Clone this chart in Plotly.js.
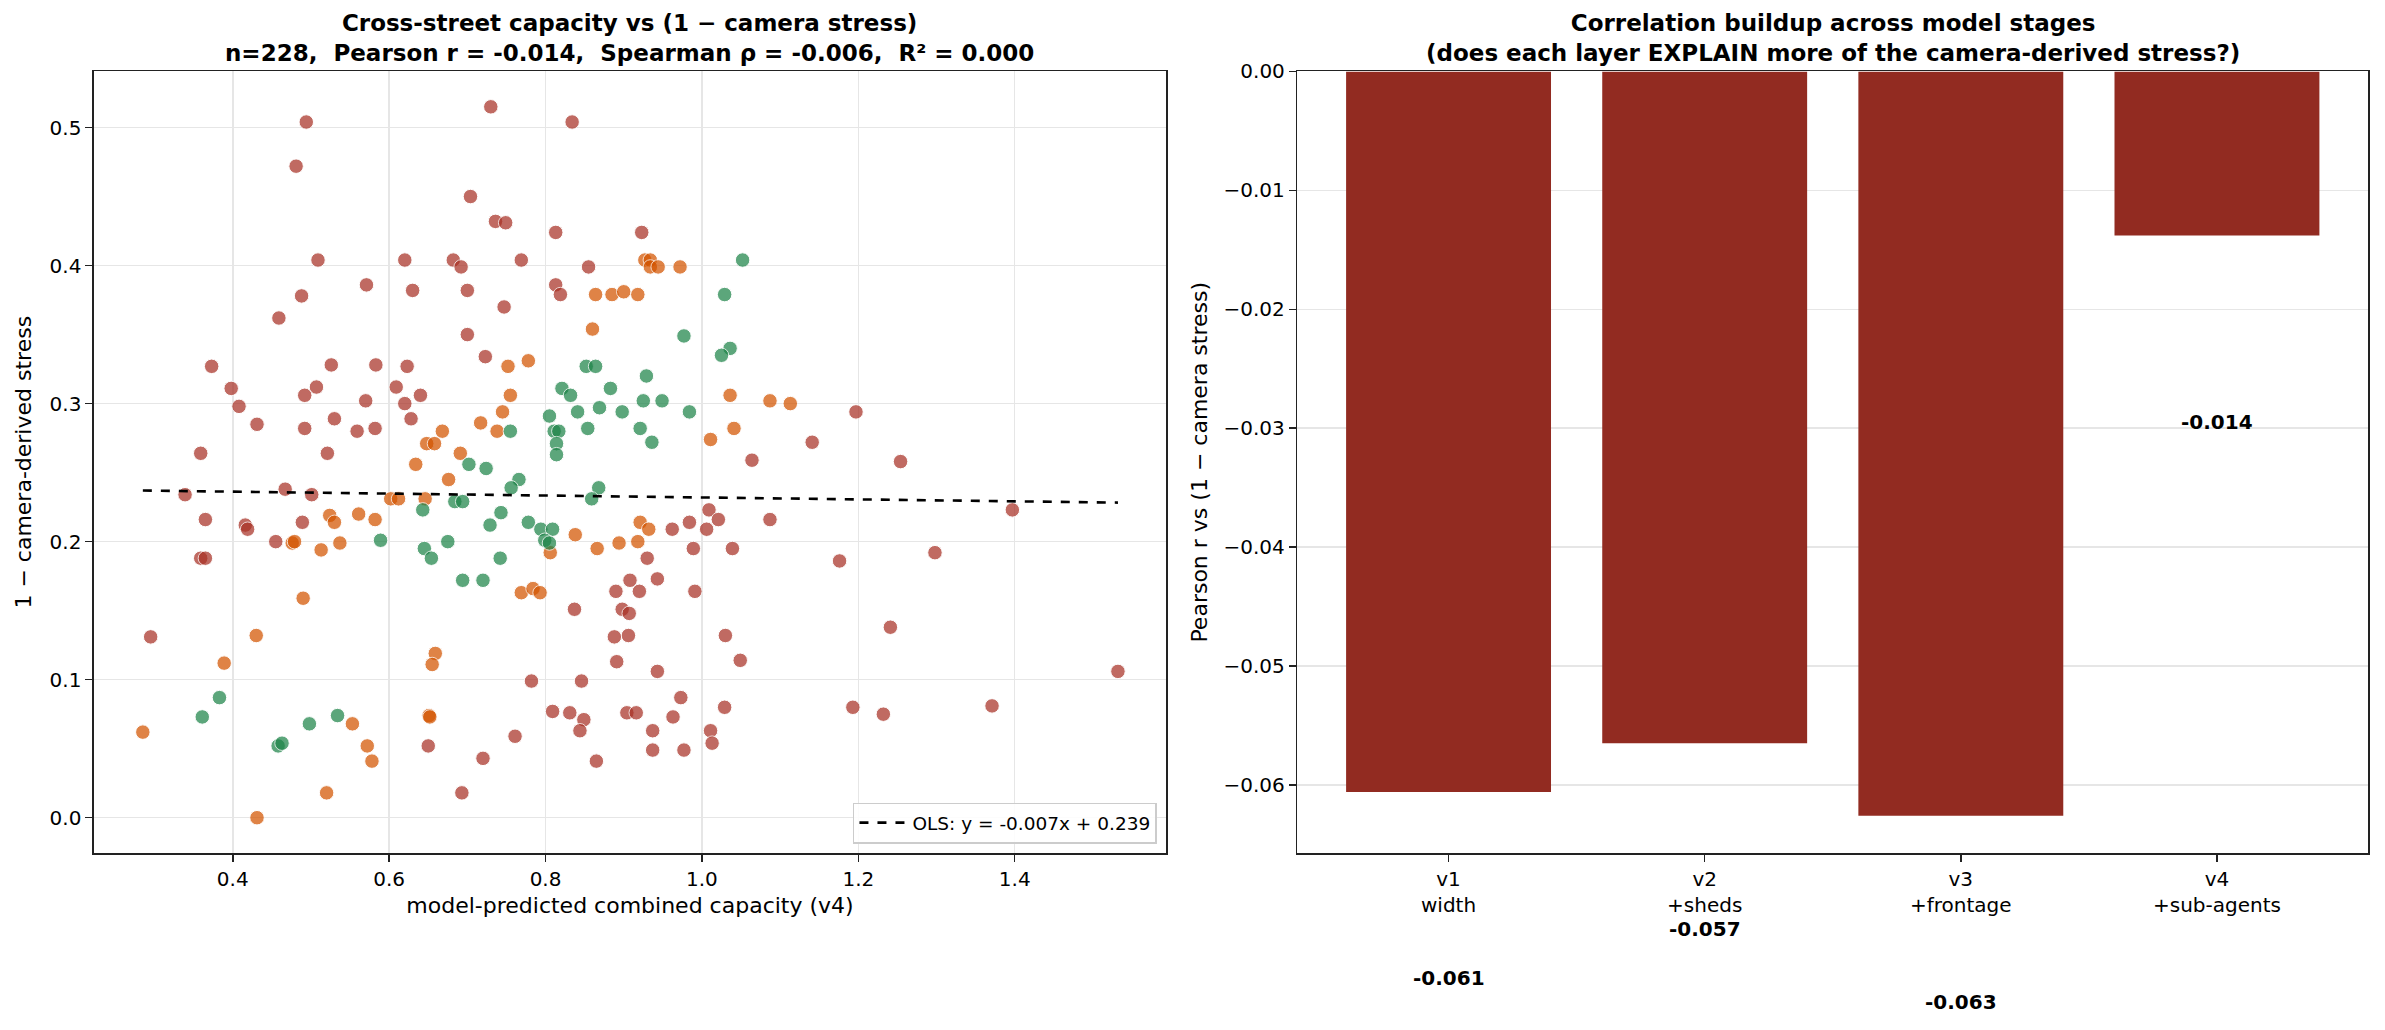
<!DOCTYPE html>
<html><head><meta charset="utf-8">
<script src="https://cdn.plot.ly/plotly-3.0.1.min.js"></script>
<style>html,body{margin:0;padding:0;background:#fff}#chart{width:2385px;height:1030px}</style>
</head><body><div id="chart"></div>
<script>
// ---------- scatter data (model-predicted capacity v4, 1 - camera-derived stress) ----------
const redX = [0.494,0.481,0.509,0.620,0.571,0.630,0.488,0.459,0.373,0.526,0.583,0.623,0.398,0.507,0.609,0.492,0.640,0.408,0.570,0.620,0.530,0.628,0.431,0.492,0.559,0.582,0.359,0.521,
  0.730,0.834,0.704,0.736,0.749,0.813,0.923,0.682,0.692,0.769,0.855,0.700,0.813,0.819,0.747,0.700,0.723,
  1.197,1.141,
  0.467,0.339,0.501,0.365,0.416,0.419,0.489,0.455,0.359,0.365,0.295,0.650,
  1.064,1.009,1.021,0.984,0.962,1.006,1.087,0.989,1.039,0.930,0.908,0.943,0.890,0.920,0.991,0.837,0.898,0.907,0.906,0.888,1.030,1.049,0.891,0.943,0.782,0.846,0.973,1.029,0.809,0.831,0.904,0.916,0.849,0.844,0.963,0.937,1.011,1.013,0.761,0.720,0.865,0.937,0.977,0.693,
  1.254,1.397,1.176,1.298,1.241,1.532,1.193,1.232,1.371];
const redY = [0.504,0.472,0.404,0.404,0.386,0.382,0.378,0.362,0.327,0.328,0.328,0.327,0.311,0.312,0.312,0.306,0.306,0.298,0.302,0.300,0.289,0.289,0.285,0.282,0.280,0.282,0.264,0.264,
  0.515,0.504,0.450,0.432,0.431,0.424,0.424,0.404,0.399,0.404,0.399,0.382,0.386,0.379,0.370,0.350,0.334,
  0.294,0.272,
  0.238,0.234,0.234,0.216,0.212,0.209,0.214,0.200,0.188,0.188,0.131,0.052,
  0.259,0.223,0.216,0.214,0.209,0.209,0.216,0.195,0.195,0.188,0.172,0.173,0.164,0.164,0.164,0.151,0.151,0.148,0.132,0.131,0.132,0.114,0.113,0.106,0.099,0.099,0.087,0.080,0.077,0.076,0.076,0.076,0.071,0.063,0.073,0.063,0.063,0.054,0.059,0.043,0.041,0.049,0.049,0.018,
  0.258,0.223,0.186,0.192,0.138,0.106,0.080,0.075,0.081];

const orangeX = [0.668,0.648,0.658,
  0.927,0.934,0.934,0.944,0.972,0.864,0.885,0.900,0.918,0.860,0.752,0.778,0.755,0.745,0.717,0.738,0.691,1.036,1.087,1.113,1.041,1.011,
  0.634,0.676,0.602,0.612,0.646,0.524,0.530,0.561,0.582,0.476,0.479,0.537,0.513,0.490,0.430,0.389,0.659,0.655,0.285,0.651,0.652,0.553,0.572,0.578,0.520,0.431,
  0.838,0.806,0.866,0.894,0.918,0.921,0.932,0.769,0.784,0.793];
const orangeY = [0.280,0.271,0.271,
  0.404,0.404,0.399,0.399,0.399,0.379,0.379,0.381,0.379,0.354,0.327,0.331,0.306,0.294,0.286,0.280,0.264,0.306,0.302,0.300,0.282,0.274,
  0.256,0.245,0.231,0.231,0.231,0.219,0.214,0.220,0.216,0.199,0.200,0.199,0.194,0.159,0.132,0.112,0.119,0.111,0.062,0.074,0.073,0.068,0.052,0.041,0.018,0.000,
  0.205,0.192,0.195,0.199,0.200,0.214,0.209,0.163,0.166,0.163];

const greenX = [1.052,1.029,0.977,1.036,1.025,0.852,0.864,0.929,0.821,0.832,0.883,0.925,0.949,0.805,0.841,0.869,0.898,0.984,0.755,0.811,0.817,0.854,0.921,0.814,0.936,0.814,
  0.643,0.589,0.645,0.654,0.675,0.383,0.361,0.498,0.534,0.458,0.463,
  0.702,0.724,0.766,0.756,0.684,0.694,0.743,0.729,0.778,0.794,0.809,0.799,0.805,0.742,0.694,0.720,0.868,0.859];
const greenY = [0.404,0.379,0.349,0.340,0.335,0.327,0.327,0.320,0.311,0.306,0.311,0.302,0.302,0.291,0.294,0.297,0.294,0.294,0.280,0.280,0.280,0.282,0.282,0.271,0.272,0.263,
  0.223,0.201,0.195,0.188,0.200,0.087,0.073,0.068,0.074,0.052,0.054,
  0.256,0.253,0.245,0.239,0.229,0.229,0.221,0.212,0.214,0.209,0.209,0.201,0.199,0.188,0.172,0.172,0.239,0.231];

const olsSlope = -0.007;
const olsIntercept = 0.239;
const statN = 228, statPearson = -0.014, statSpearman = -0.006, statR2 = 0.000;

// ---------- bar data ----------
const stages = ["v1<br>width", "v2<br>+sheds", "v3<br>+frontage", "v4<br>+sub-agents"];
const pearsonR = [-0.0606, -0.0565, -0.0626, -0.0138];

// ---------- build ----------
const allX = redX.concat(orangeX, greenX);
const xMin = Math.min(...allX), xMax = Math.max(...allX);

function pts(x, y, color) {
  return {type:'scatter', mode:'markers', x:x, y:y, xaxis:'x', yaxis:'y', showlegend:false, hoverinfo:'skip',
    marker:{size:14.5, color:color, opacity:0.72, line:{color:'white', width:1}}};
}
const FONT = 'DejaVu Sans, sans-serif';
const NB = '\u00a0';
const traces = [
  pts(redX, redY, '#a93226'),
  pts(orangeX, orangeY, '#d35400'),
  pts(greenX, greenY, '#1e8449'),
  {type:'scatter', mode:'lines', x:[xMin, xMax], y:[olsSlope*xMin+olsIntercept, olsSlope*xMax+olsIntercept],
   xaxis:'x', yaxis:'y', line:{color:'black', width:2.6, dash:'dash'},
   name:`OLS: y = ${olsSlope.toFixed(3)}x + ${olsIntercept.toFixed(3)}`, showlegend:true},
  {type:'bar', x:stages, y:pearsonR, xaxis:'x2', yaxis:'y2', width:0.8, marker:{color:'#922b21'}, showlegend:false, hoverinfo:'skip'}
];

const y2min = Math.min(...pearsonR) * 1.05, y2max = 0;
const maxAbs = Math.max(...pearsonR.map(Math.abs));
const barLabels = pearsonR.map((r, i) => ({
  xref:'x2', yref:'y2 domain', x:stages[i], y:((r - 0.25*maxAbs) - y2min)/(y2max - y2min),
  text:'<b>' + r.toFixed(3) + '</b>', showarrow:false, xanchor:'center', yanchor:'middle',
  font:{family:FONT, size:20, color:'black'}
}));

const axisCommon = {showline:true, mirror:true, linecolor:'#222', linewidth:1.6, ticks:'outside', ticklen:7, tickwidth:1.5, tickcolor:'#222',
  tickfont:{family:FONT, size:20, color:'black'}, zeroline:false};

const layout = {
  width:2385, height:1030, margin:{l:0, r:0, t:0, b:0}, paper_bgcolor:'white', plot_bgcolor:'white',
  font:{family:FONT, color:'black'},
  showlegend:true,
  legend:{x:0.4851, y:0.181, xanchor:'right', yanchor:'bottom', bgcolor:'rgba(255,255,255,0.85)', bordercolor:'#cccccc', borderwidth:1.5,
    itemwidth:48, font:{family:FONT, size:18.5, color:'black'}},
  xaxis: Object.assign({}, axisCommon, {domain:[0.0394, 0.4889], range:[0.2225, 1.5935], dtick:0.2, tick0:0, tickformat:'.1f',
    showgrid:true, gridcolor:'#e6e6e6', gridwidth:1.5,
    title:{text:'model-predicted combined capacity (v4)', font:{family:FONT, size:22, color:'black'}, standoff:8}}),
  yaxis: Object.assign({}, axisCommon, {domain:[0.1718, 0.9306], range:[-0.0256, 0.5406], dtick:0.1, tick0:0, tickformat:'.1f',
    showgrid:true, gridcolor:'#e6e6e6', gridwidth:1.5,
    title:{text:'1 \u2212 camera-derived stress', font:{family:FONT, size:22, color:'black'}, standoff:12}}),
  xaxis2: Object.assign({}, axisCommon, {domain:[0.5440, 0.9929], anchor:'y2', range:[-0.59, 3.59], showgrid:false, type:'category'}),
  yaxis2: Object.assign({}, axisCommon, {domain:[0.1718, 0.9306], anchor:'x2', range:[y2min, y2max], dtick:0.01, tick0:0, tickformat:'.2f',
    showgrid:true, gridcolor:'#e6e6e6', gridwidth:1.5,
    title:{text:'Pearson r vs (1 \u2212 camera stress)', font:{family:FONT, size:22, color:'black'}, standoff:10}}),
  bargap:0.2,
  annotations: [
    {xref:'paper', yref:'paper', x:(0.0394+0.4889)/2, y:0.9335, xanchor:'center', yanchor:'bottom', showarrow:false,
     text:'<b>Cross-street capacity vs (1 \u2212 camera stress)<br>n=' + statN + ',' + NB + ' Pearson r = ' + statPearson.toFixed(3) + ',' + NB + ' Spearman \u03c1 = ' + statSpearman.toFixed(3) + ',' + NB + ' R\u00b2 = ' + statR2.toFixed(3) + '</b>',
     font:{family:FONT, size:23, color:'black'}},
    {xref:'paper', yref:'paper', x:(0.5440+0.9929)/2, y:0.9335, xanchor:'center', yanchor:'bottom', showarrow:false,
     text:'<b>Correlation buildup across model stages<br>(does each layer EXPLAIN more of the camera-derived stress?)</b>',
     font:{family:FONT, size:23, color:'black'}}
  ].concat(barLabels)
};

Plotly.newPlot('chart', traces, layout, {staticPlot:true, displayModeBar:false});
</script>
</body></html>
